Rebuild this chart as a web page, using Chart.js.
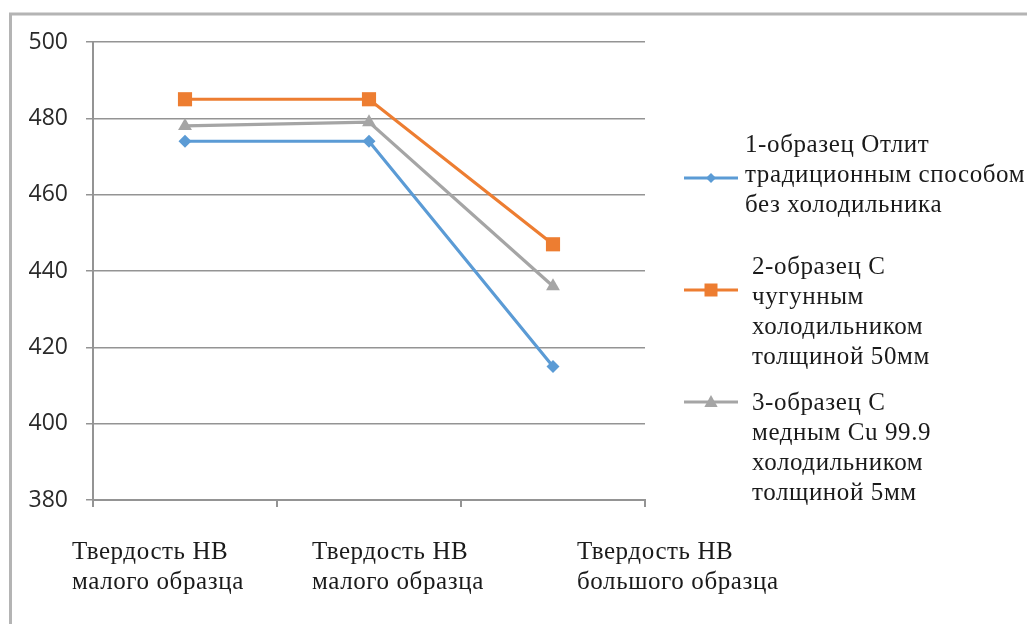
<!DOCTYPE html>
<html lang="ru">
<head>
<meta charset="utf-8">
<title>Твердость HB образцов</title>
<script src="https://cdn.jsdelivr.net/npm/chart.js@4/dist/chart.umd.min.js"></script>
<style>
  html, body { margin: 0; padding: 0; background: #ffffff; }
  #wrap { width: 1027px; height: 624px; position: relative; }
</style>
</head>
<body>
<div id="wrap"><canvas id="chart"></canvas></div>
<script>
// Categories (each drawn on two lines)
const categories = [
  ['Твердость НВ', 'малого образца'],
  ['Твердость НВ', 'малого образца'],
  ['Твердость НВ', 'большого образца']
];

// Series names, split into the lines shown in the legend
const seriesNames = [
  ['1-образец Отлит', 'традиционным способом', 'без холодильника'],
  ['2-образец С', 'чугунным', 'холодильником', 'толщиной 50мм'],
  ['3-образец С', 'медным Cu 99.9', 'холодильником', 'толщиной 5мм']
];

// Hardness values, HB
const sample1 = [474, 474, 415];
const sample2 = [485, 485, 447];
const sample3 = [478, 479, 436];

// Value axis
const yMin = 380;
const yMax = 500;
const yStep = 20;

const colors = ['#5B9BD5', '#ED7D31', '#A5A5A5'];
const pointStyles = ['rectRot', 'rect', 'triangle'];
const pointRadii = [6.5, 10, 8];

const serif = '"Liberation Serif", "Times New Roman", serif';
const sans = '"Open Sans", "Liberation Sans", sans-serif';
const gridColor = '#949494';
const textColor = '#1a1a1a';

// Outer frame of the chart object
const framePlugin = {
  id: 'frame',
  beforeDraw(chart) {
    const ctx = chart.ctx;
    ctx.save();
    ctx.fillStyle = '#ffffff';
    ctx.fillRect(0, 0, chart.width, chart.height);
    ctx.strokeStyle = '#b4b4b4';
    ctx.lineWidth = 3;
    ctx.strokeRect(10.5, 14, chart.width + 20, chart.height + 20);
    ctx.restore();
  }
};

function setSerif(ctx) {
  ctx.font = '25px ' + serif;
  ctx.fillStyle = textColor;
  ctx.textAlign = 'left';
  ctx.textBaseline = 'alphabetic';
  if ('letterSpacing' in ctx) ctx.letterSpacing = '0.6px';
}

// Two-line category captions below the axis, left aligned
const categoryLabelPlugin = {
  id: 'categoryLabels',
  afterDraw(chart) {
    const scale = chart.scales.x;
    const ctx = chart.ctx;
    const shift = [-113, -57, 24];
    ctx.save();
    setSerif(ctx);
    categories.forEach((lines, i) => {
      const x = scale.getPixelForValue(i) + shift[i];
      lines.forEach((line, j) => {
        ctx.fillText(line, x, 559 + j * 30);
      });
    });
    ctx.restore();
  }
};

function drawMarker(ctx, style, x, y, r) {
  ctx.beginPath();
  if (style === 'rectRot') {
    ctx.moveTo(x - r, y);
    ctx.lineTo(x, y - r);
    ctx.lineTo(x + r, y);
    ctx.lineTo(x, y + r);
  } else if (style === 'rect') {
    ctx.rect(x - r, y - r, 2 * r, 2 * r);
  } else {
    ctx.moveTo(x, y - r);
    ctx.lineTo(x + r * 0.95, y + r * 0.7);
    ctx.lineTo(x - r * 0.95, y + r * 0.7);
  }
  ctx.closePath();
  ctx.fill();
}

// Legend on the right with multi-line series names
const legendPlugin = {
  id: 'sideLegend',
  afterDraw(chart) {
    const ctx = chart.ctx;
    const textX = [745, 752, 752];
    const firstBaseline = [152, 274, 410];
    const markerY = [178, 290, 402];
    const markerR = [5, 6.5, 7];
    ctx.save();
    chart.data.datasets.forEach((ds, i) => {
      ctx.strokeStyle = ds.borderColor;
      ctx.fillStyle = ds.borderColor;
      ctx.lineWidth = 3;
      ctx.beginPath();
      ctx.moveTo(684, markerY[i]);
      ctx.lineTo(738, markerY[i]);
      ctx.stroke();
      drawMarker(ctx, ds.pointStyle, 711, markerY[i], markerR[i]);
      setSerif(ctx);
      seriesNames[i].forEach((line, j) => {
        ctx.fillText(line, textX[i], firstBaseline[i] + j * 30);
      });
    });
    ctx.restore();
  }
};

const seriesValues = [sample1, sample2, sample3];

new Chart(document.getElementById('chart'), {
  type: 'line',
  data: {
    labels: categories.map(c => c.join(' ')),
    datasets: seriesValues.map((values, i) => ({
      label: seriesNames[i].join(' '),
      data: values,
      borderColor: colors[i],
      backgroundColor: colors[i],
      borderWidth: 3.2,
      pointStyle: pointStyles[i],
      pointRadius: pointRadii[i],
      pointHoverRadius: pointRadii[i],
      pointBorderWidth: 0,
      pointBackgroundColor: colors[i],
      tension: 0,
      fill: false
    }))
  },
  options: {
    responsive: true,
    maintainAspectRatio: false,
    animation: false,
    layout: { padding: { left: 10, right: 382, top: 42, bottom: 0 } },
    plugins: {
      legend: { display: false },
      tooltip: { enabled: false },
      title: { display: false }
    },
    scales: {
      x: {
        type: 'category',
        offset: true,
        grid: {
          display: true,
          offset: true,
          drawOnChartArea: false,
          drawTicks: true,
          tickLength: 7,
          color: gridColor,
          lineWidth: 2
        },
        border: { display: true, color: gridColor, width: 2 },
        ticks: { display: false },
        afterFit(scale) { scale.height = 124; }
      },
      y: {
        min: yMin,
        max: yMax,
        ticks: {
          stepSize: yStep,
          padding: 18,
          color: '#2a2a2a',
          font: { family: sans, size: 23 }
        },
        grid: {
          color: gridColor,
          lineWidth: 1.5,
          drawTicks: true,
          tickLength: 7
        },
        border: { display: true, color: gridColor, width: 2 },
        afterFit(scale) { scale.width = 83; }
      }
    }
  },
  plugins: [framePlugin, categoryLabelPlugin, legendPlugin]
});
</script>
</body>
</html>
